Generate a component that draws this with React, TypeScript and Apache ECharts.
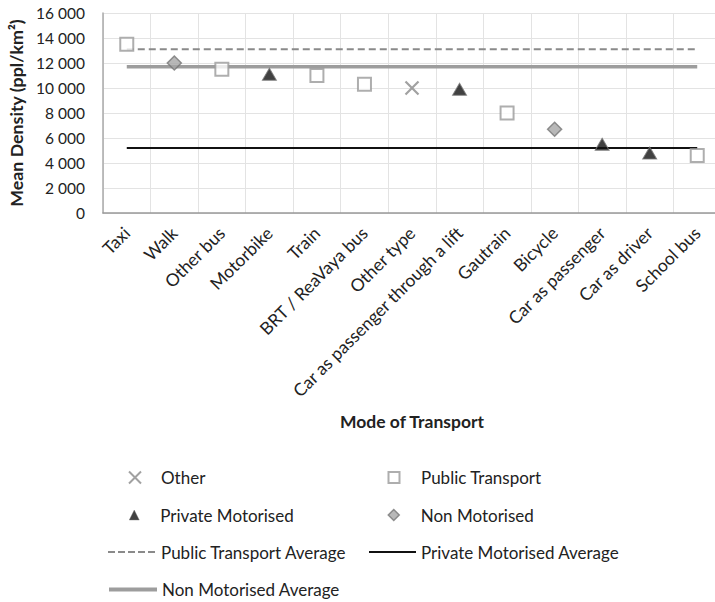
import React, { useEffect, useRef } from "react";
import * as echarts from "echarts";

const categories = [
  "Taxi",
  "Walk",
  "Other bus",
  "Motorbike",
  "Train",
  "BRT / ReaVaya bus",
  "Other type",
  "Car as passenger through a lift",
  "Gautrain",
  "Bicycle",
  "Car as passenger",
  "Car as driver",
  "School bus",
];

const density = [13500, 12000, 11500, 11100, 11000, 10300, 10000, 9900, 8000, 6700, 5500, 4800, 4600];

const modeGroup = [
  "Public Transport",
  "Non Motorised",
  "Public Transport",
  "Private Motorised",
  "Public Transport",
  "Public Transport",
  "Other",
  "Private Motorised",
  "Public Transport",
  "Non Motorised",
  "Private Motorised",
  "Private Motorised",
  "Public Transport",
];

const publicTransportAverage = 13100;
const privateMotorisedAverage = 5200;
const nonMotorisedAverage = 11700;

const yTicks = { min: 0, max: 16000, interval: 2000 };

const FONT = "Lato, 'Noto Sans', sans-serif";

const SYM_X = "path://M0,0L10,10M10,0L0,10";
const SYM_SQUARE = "path://M0,0L10,0L10,10L0,10Z";
const SYM_TRIANGLE = "path://M5,0L10,10L0,10Z";
const SYM_DIAMOND = "path://M5,0L10,5L5,10L0,5Z";

function groupData(name: string) {
  return categories.map((c, i) => (modeGroup[i] === name ? density[i] : null));
}

const legendText = { fontFamily: FONT, fontSize: 17, color: "#222", lineHeight: 20 };

// symbol legend: positioned by the icon's own left edge (bounding box)
function symbolLegend(name: string, centerX: number, rowY: number, size: number, itemWidth: number, extra: any = {}) {
  return {
    left: centerX - size / 2,
    top: rowY - 10,
    padding: 0,
    itemWidth,
    itemHeight: size,
    selectedMode: false,
    textStyle: legendText,
    data: [name],
    ...extra,
  };
}

function lineLegend(name: string, left: number, rowY: number, itemWidth: number, extra: any = {}) {
  return {
    left,
    top: rowY - 10,
    padding: 0,
    itemWidth,
    itemHeight: 11,
    selectedMode: false,
    textStyle: legendText,
    itemStyle: { opacity: 0 },
    data: [name],
    ...extra,
  };
}

export default function App() {
  const ref = useRef<HTMLDivElement>(null);

  useEffect(() => {
    if (!ref.current) return;
    const chart = echarts.init(ref.current, undefined, { renderer: "svg" });

    const option: any = {
      animation: false,
      backgroundColor: "#ffffff",
      textStyle: { fontFamily: FONT, color: "#222" },
      grid: {
        left: 103,
        width: 618,
        top: 13,
        height: 200,
        containLabel: false,
        outerBoundsMode: "none",
      },
      xAxis: {
        type: "category",
        data: categories,
        boundaryGap: true,
        name: "Mode of Transport",
        nameLocation: "middle",
        nameGap: 199,
        nameMoveOverlap: false,
        nameTextStyle: { fontFamily: FONT, fontWeight: "bold", fontSize: 17.5, color: "#222" },
        axisLine: { show: true, lineStyle: { color: "#999", width: 1.5 } },
        axisTick: { show: false },
        splitLine: { show: true, lineStyle: { color: "#e3e3e3", width: 1 } },
        axisLabel: {
          interval: 0,
          rotate: 45,
          margin: 17,
          fontFamily: FONT,
          fontSize: 17.5,
          color: "#222",
          hideOverlap: false,
        },
      },
      yAxis: {
        type: "value",
        min: yTicks.min,
        max: yTicks.max,
        interval: yTicks.interval,
        name: "Mean Density (ppl/km²)",
        nameLocation: "middle",
        nameGap: 76,
        nameTextStyle: { fontFamily: FONT, fontWeight: "bold", fontSize: 17.8, color: "#222" },
        axisLine: { show: true, lineStyle: { color: "#aaa", width: 1.5 } },
        axisTick: { show: false },
        splitLine: { show: true, lineStyle: { color: "#e3e3e3", width: 1 } },
        axisLabel: {
          margin: 18,
          fontFamily: FONT,
          fontSize: 15.5,
          color: "#222",
          formatter: (v: number) => String(v).replace(/\B(?=(\d{3})+(?!\d))/g, " "),
        },
      },
      legend: [
        symbolLegend("Other", 134, 477.5, 12, 42),
        symbolLegend("Public Transport", 393, 477.5, 11, 44),
        symbolLegend("Private Motorised", 134, 515, 10, 42, { itemStyle: { borderWidth: 0.5 } }),
        symbolLegend("Non Motorised", 393, 515, 11, 44, { itemStyle: { borderWidth: 1.5 } }),
        lineLegend("Public Transport Average", 107, 552, 48, { lineStyle: { width: 2, type: [7, 3] } }),
        lineLegend("Private Motorised Average", 368, 552, 47, { lineStyle: { width: 2 } }),
        lineLegend("Non Motorised Average", 107, 589.5, 48, { lineStyle: { width: 4 } }),
      ],
      series: [
        {
          name: "Public Transport Average",
          type: "line",
          data: categories.map(() => publicTransportAverage),
          symbol: "none",
          lineStyle: { color: "#8a8a8a", width: 2, type: [7, 4] },
          itemStyle: { color: "#8a8a8a" },
          z: 2,
        },
        {
          name: "Private Motorised Average",
          type: "line",
          data: categories.map(() => privateMotorisedAverage),
          symbol: "none",
          lineStyle: { color: "#111", width: 2 },
          itemStyle: { color: "#111" },
          z: 2,
        },
        {
          name: "Non Motorised Average",
          type: "line",
          data: categories.map(() => nonMotorisedAverage),
          symbol: "none",
          lineStyle: { color: "#9d9d9d", width: 3.5 },
          itemStyle: { color: "#9d9d9d" },
          z: 2,
        },
        {
          name: "Other",
          type: "scatter",
          data: groupData("Other"),
          symbol: SYM_X,
          symbolSize: 13,
          itemStyle: { color: "rgba(0,0,0,0)", borderColor: "#8a8a8a", borderWidth: 2.2 },
          z: 5,
        },
        {
          name: "Public Transport",
          type: "scatter",
          data: groupData("Public Transport"),
          symbol: SYM_SQUARE,
          symbolSize: 13,
          itemStyle: { color: "#ffffff", borderColor: "#9a9a9a", borderWidth: 2 },
          z: 5,
        },
        {
          name: "Private Motorised",
          type: "scatter",
          data: groupData("Private Motorised"),
          symbol: SYM_TRIANGLE,
          symbolSize: [14, 12],
          itemStyle: { color: "#111", borderColor: "#777", borderWidth: 1 },
          z: 5,
        },
        {
          name: "Non Motorised",
          type: "scatter",
          data: groupData("Non Motorised"),
          symbol: SYM_DIAMOND,
          symbolSize: 14,
          itemStyle: { color: "#a6a6a6", borderColor: "#777", borderWidth: 1.5 },
          z: 5,
        },
      ],
    };

    chart.setOption(option);
    return () => chart.dispose();
  }, []);

  return (
    <div
      ref={ref}
      style={{ position: "fixed", left: 0, top: 0, width: 715, height: 602, background: "#fff" }}
    />
  );
}
